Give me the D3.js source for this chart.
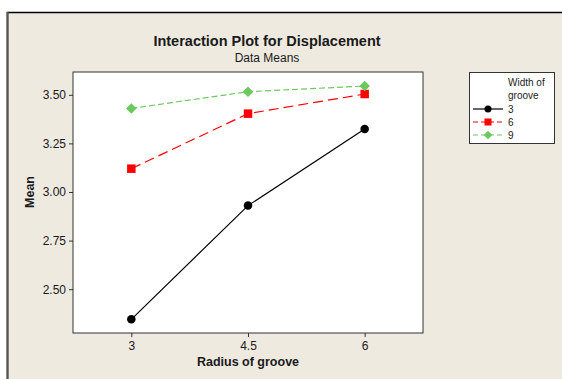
<html lang="en">
<head>
    <meta charset="UTF-8">
    <title>Interaction Plot for Displacement</title>
    <script src="https://d3js.org/d3.v7.min.js"></script>
    <style>
        body { margin: 0; background: #ffffff; }
        text { font-family: Tahoma, "Liberation Sans", sans-serif; fill: #1a1a1a; }
    </style>
</head>
<body>
    <div id="chart"></div>
    <script>
        var radius = ["3", "4.5", "6"];
        var widths = ["3", "6", "9"];
        var means3 = [2.345, 2.93, 3.324];
        var means6 = [3.12, 3.403, 3.504];
        var means9 = [3.43, 3.516, 3.545];
        var yTicks = [2.50, 2.75, 3.00, 3.25, 3.50];

        var width = 562, height = 379;
        var plot = { left: 73, top: 72, right: 423, bottom: 333 };

        var series = [
            { name: widths[0], values: means3, color: "#000000", dash: null, marker: "circle" },
            { name: widths[1], values: means6, color: "#ff0000", dash: "10,5", marker: "square" },
            { name: widths[2], values: means9, color: "#6cc95e", dash: "6,3", marker: "diamond" }
        ];

        var svg = d3.select("#chart").append("svg")
            .attr("width", width)
            .attr("height", height);

        // beige frame
        svg.append("rect")
            .attr("x", 7.5).attr("y", 12.5)
            .attr("width", 600).attr("height", 400)
            .attr("fill", "#eeeae0")
            .attr("stroke", "#000").attr("stroke-width", 1.5);
        svg.append("line")
            .attr("x1", 7.5).attr("x2", 7.5).attr("y1", 12).attr("y2", 379)
            .attr("stroke", "#555").attr("stroke-width", 2);

        var x = d3.scalePoint()
            .domain(radius)
            .range([plot.left, plot.right])
            .padding(0.5);

        var y = d3.scaleLinear()
            .domain([3 - 141 / 194.4, 3 + 120 / 194.4])
            .range([plot.bottom, plot.top]);

        svg.append("rect")
            .attr("x", plot.left).attr("y", plot.top)
            .attr("width", plot.right - plot.left)
            .attr("height", plot.bottom - plot.top)
            .attr("fill", "#ffffff")
            .attr("stroke", "#333").attr("stroke-width", 1);

        var yAxis = svg.append("g")
            .attr("transform", "translate(" + plot.left + ",0)")
            .call(d3.axisLeft(y).tickValues(yTicks).tickFormat(d3.format(".2f")).tickSize(4).tickPadding(3));
        var xAxis = svg.append("g")
            .attr("transform", "translate(0," + plot.bottom + ")")
            .call(d3.axisBottom(x).tickSize(4).tickPadding(4));
        [xAxis, yAxis].forEach(function(a) {
            a.select(".domain").remove();
            a.selectAll("line").attr("stroke", "#333");
            a.selectAll("text").attr("font-size", 12).attr("fill", "#1a1a1a")
                .attr("font-family", "Tahoma, 'Liberation Sans', sans-serif");
        });

        function drawMarker(g, type, cx, cy, color, size) {
            if (type === "circle") {
                g.append("circle").attr("cx", cx).attr("cy", cy).attr("r", size * 0.5).attr("fill", color);
            } else if (type === "square") {
                g.append("rect").attr("x", cx - size / 2).attr("y", cy - size / 2)
                    .attr("width", size).attr("height", size).attr("fill", color);
            } else {
                var s = size * 0.62;
                g.append("path").attr("d", "M" + cx + "," + (cy - s) + "L" + (cx + s) + "," + cy +
                    "L" + cx + "," + (cy + s) + "L" + (cx - s) + "," + cy + "Z").attr("fill", color);
            }
        }

        var line = d3.line()
            .x(function(d, i) { return x(radius[i]); })
            .y(function(d) { return y(d); });

        series.forEach(function(s) {
            var g = svg.append("g");
            g.append("path")
                .datum(s.values)
                .attr("d", line)
                .attr("fill", "none")
                .attr("stroke", s.color)
                .attr("stroke-width", 1.2)
                .attr("stroke-dasharray", s.dash);
            s.values.forEach(function(v, i) {
                drawMarker(g, s.marker, x(radius[i]), y(v), s.color, 8.5);
            });
        });

        // titles
        svg.append("text")
            .attr("x", 267).attr("y", 46)
            .attr("text-anchor", "middle")
            .attr("font-size", 14.5).attr("font-weight", "bold")
            .text("Interaction Plot for Displacement");
        svg.append("text")
            .attr("x", 267).attr("y", 62)
            .attr("text-anchor", "middle")
            .attr("font-size", 12)
            .text("Data Means");
        svg.append("text")
            .attr("x", (plot.left + plot.right) / 2).attr("y", 366)
            .attr("text-anchor", "middle")
            .attr("font-size", 12.5).attr("font-weight", "bold")
            .text("Radius of groove");
        svg.append("text")
            .attr("transform", "translate(34," + y(3) + ") rotate(-90)")
            .attr("text-anchor", "middle")
            .attr("font-size", 12.5).attr("font-weight", "bold")
            .text("Mean");

        // legend
        var leg = svg.append("g");
        leg.append("rect")
            .attr("x", 469.5).attr("y", 72.5)
            .attr("width", 85).attr("height", 71)
            .attr("fill", "#ffffff")
            .attr("stroke", "#333").attr("stroke-width", 1);
        leg.append("text").attr("x", 508).attr("y", 86).attr("font-size", 10).text("Width of");
        leg.append("text").attr("x", 508).attr("y", 99).attr("font-size", 10).text("groove");
        series.forEach(function(s, i) {
            var ly = 109 + i * 13;
            leg.append("line")
                .attr("x1", 473).attr("x2", 503).attr("y1", ly).attr("y2", ly)
                .attr("stroke", s.color).attr("stroke-width", 1.2)
                .attr("stroke-dasharray", s.dash ? "5,3" : null);
            drawMarker(leg, s.marker, 488, ly, s.color, 7);
            leg.append("text").attr("x", 508).attr("y", ly + 4).attr("font-size", 10).text(s.name);
        });
    </script>
</body>
</html>
